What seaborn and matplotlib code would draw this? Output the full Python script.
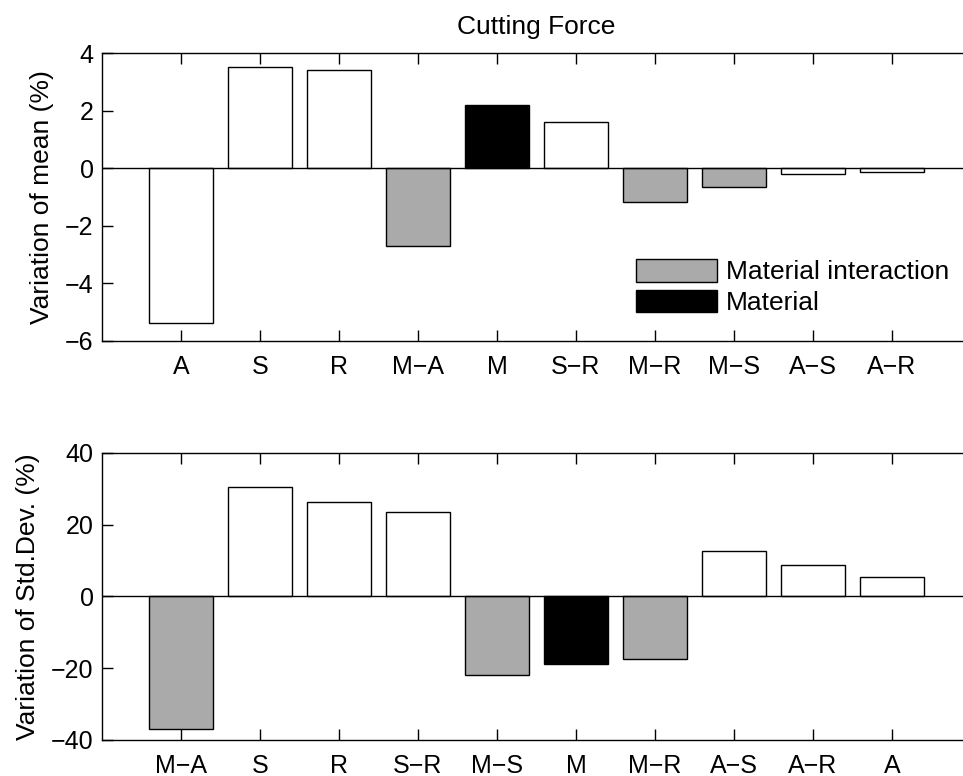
import matplotlib
matplotlib.use("Agg")
import matplotlib.pyplot as plt
from matplotlib.patches import Patch
import seaborn as sns
import pandas as pd

# ── data ────────────────────────────────────────────────────────────────────
mean_labels = ["A", "S", "R", "M−A", "M", "S−R", "M−R", "M−S", "A−S", "A−R"]
mean_values = [-5.38, 3.51, 3.41, -2.70, 2.19, 1.60, -1.19, -0.66, -0.20, -0.12]
mean_groups = ["other", "other", "other", "interaction", "material",
               "other", "interaction", "interaction", "other", "other"]

std_labels = ["M−A", "S", "R", "S−R", "M−S", "M", "M−R", "A−S", "A−R", "A"]
std_values = [-36.8, 30.4, 26.4, 23.6, -22.0, -18.9, -17.5, 12.5, 8.7, 5.5]
std_groups = ["interaction", "other", "other", "other", "interaction",
              "material", "interaction", "other", "other", "other"]

PALETTE = {"other": "white", "interaction": "#aaaaaa", "material": "black"}

sns.set_style("white")
plt.rcParams["font.family"] = ["Liberation Sans", "DejaVu Sans"]
plt.rcParams["xtick.direction"] = "in"
plt.rcParams["ytick.direction"] = "in"
plt.rcParams["text.color"] = "black"
plt.rcParams["axes.labelcolor"] = "black"
plt.rcParams["xtick.color"] = "black"
plt.rcParams["ytick.color"] = "black"


def draw_panel(ax, labels, values, groups, ylim, yticks, ylabel):
    df = pd.DataFrame({"label": labels, "value": values, "group": groups})
    sns.barplot(data=df, x="label", y="value", hue="group", palette=PALETTE,
                dodge=False, legend=False, edgecolor="black", linewidth=1.0,
                width=0.8, ax=ax, order=labels)
    ax.axhline(0, color="black", linewidth=1.0, zorder=3)
    ax.set_xlim(-1, 10)
    ax.set_ylim(*ylim)
    ax.set_yticks(yticks)
    ax.set_xlabel("")
    ax.set_ylabel(ylabel, fontsize=19, labelpad=8)
    ax.tick_params(axis="x", top=True, bottom=True, length=8, width=1,
                   labelsize=18, pad=10)
    ax.tick_params(axis="y", left=True, right=False, length=8, width=1,
                   labelsize=18, pad=6)
    for side in ["top", "bottom", "left", "right"]:
        ax.spines[side].set_color("black")
        ax.spines[side].set_linewidth(1.0)


fig = plt.figure(figsize=(9.63, 7.76), dpi=100)
ax1 = fig.add_axes([0.1059, 0.5606, 0.9024, 0.3711])
ax2 = fig.add_axes([0.1059, 0.0464, 0.9024, 0.3702])

draw_panel(ax1, mean_labels, mean_values, mean_groups, (-6, 4),
           [-6, -4, -2, 0, 2, 4], "Variation of mean (%)")
draw_panel(ax2, std_labels, std_values, std_groups, (-40, 40),
           [-40, -20, 0, 20, 40], "Variation of Std.Dev. (%)")

ax1.set_title("Cutting Force", fontsize=19, pad=14)

handles = [Patch(facecolor=PALETTE["interaction"], edgecolor="black", linewidth=1.0),
           Patch(facecolor=PALETTE["material"], edgecolor="black", linewidth=1.0)]
ax1.legend(handles, ["Material interaction", "Material"], loc="upper left",
           bbox_to_anchor=(0.6145, 0.285), frameon=False, fontsize=19,
           handlelength=3.07, handleheight=0.95, handletextpad=0.35,
           labelspacing=0.2, borderpad=0, borderaxespad=0)

fig.savefig("out.png", dpi=100)
